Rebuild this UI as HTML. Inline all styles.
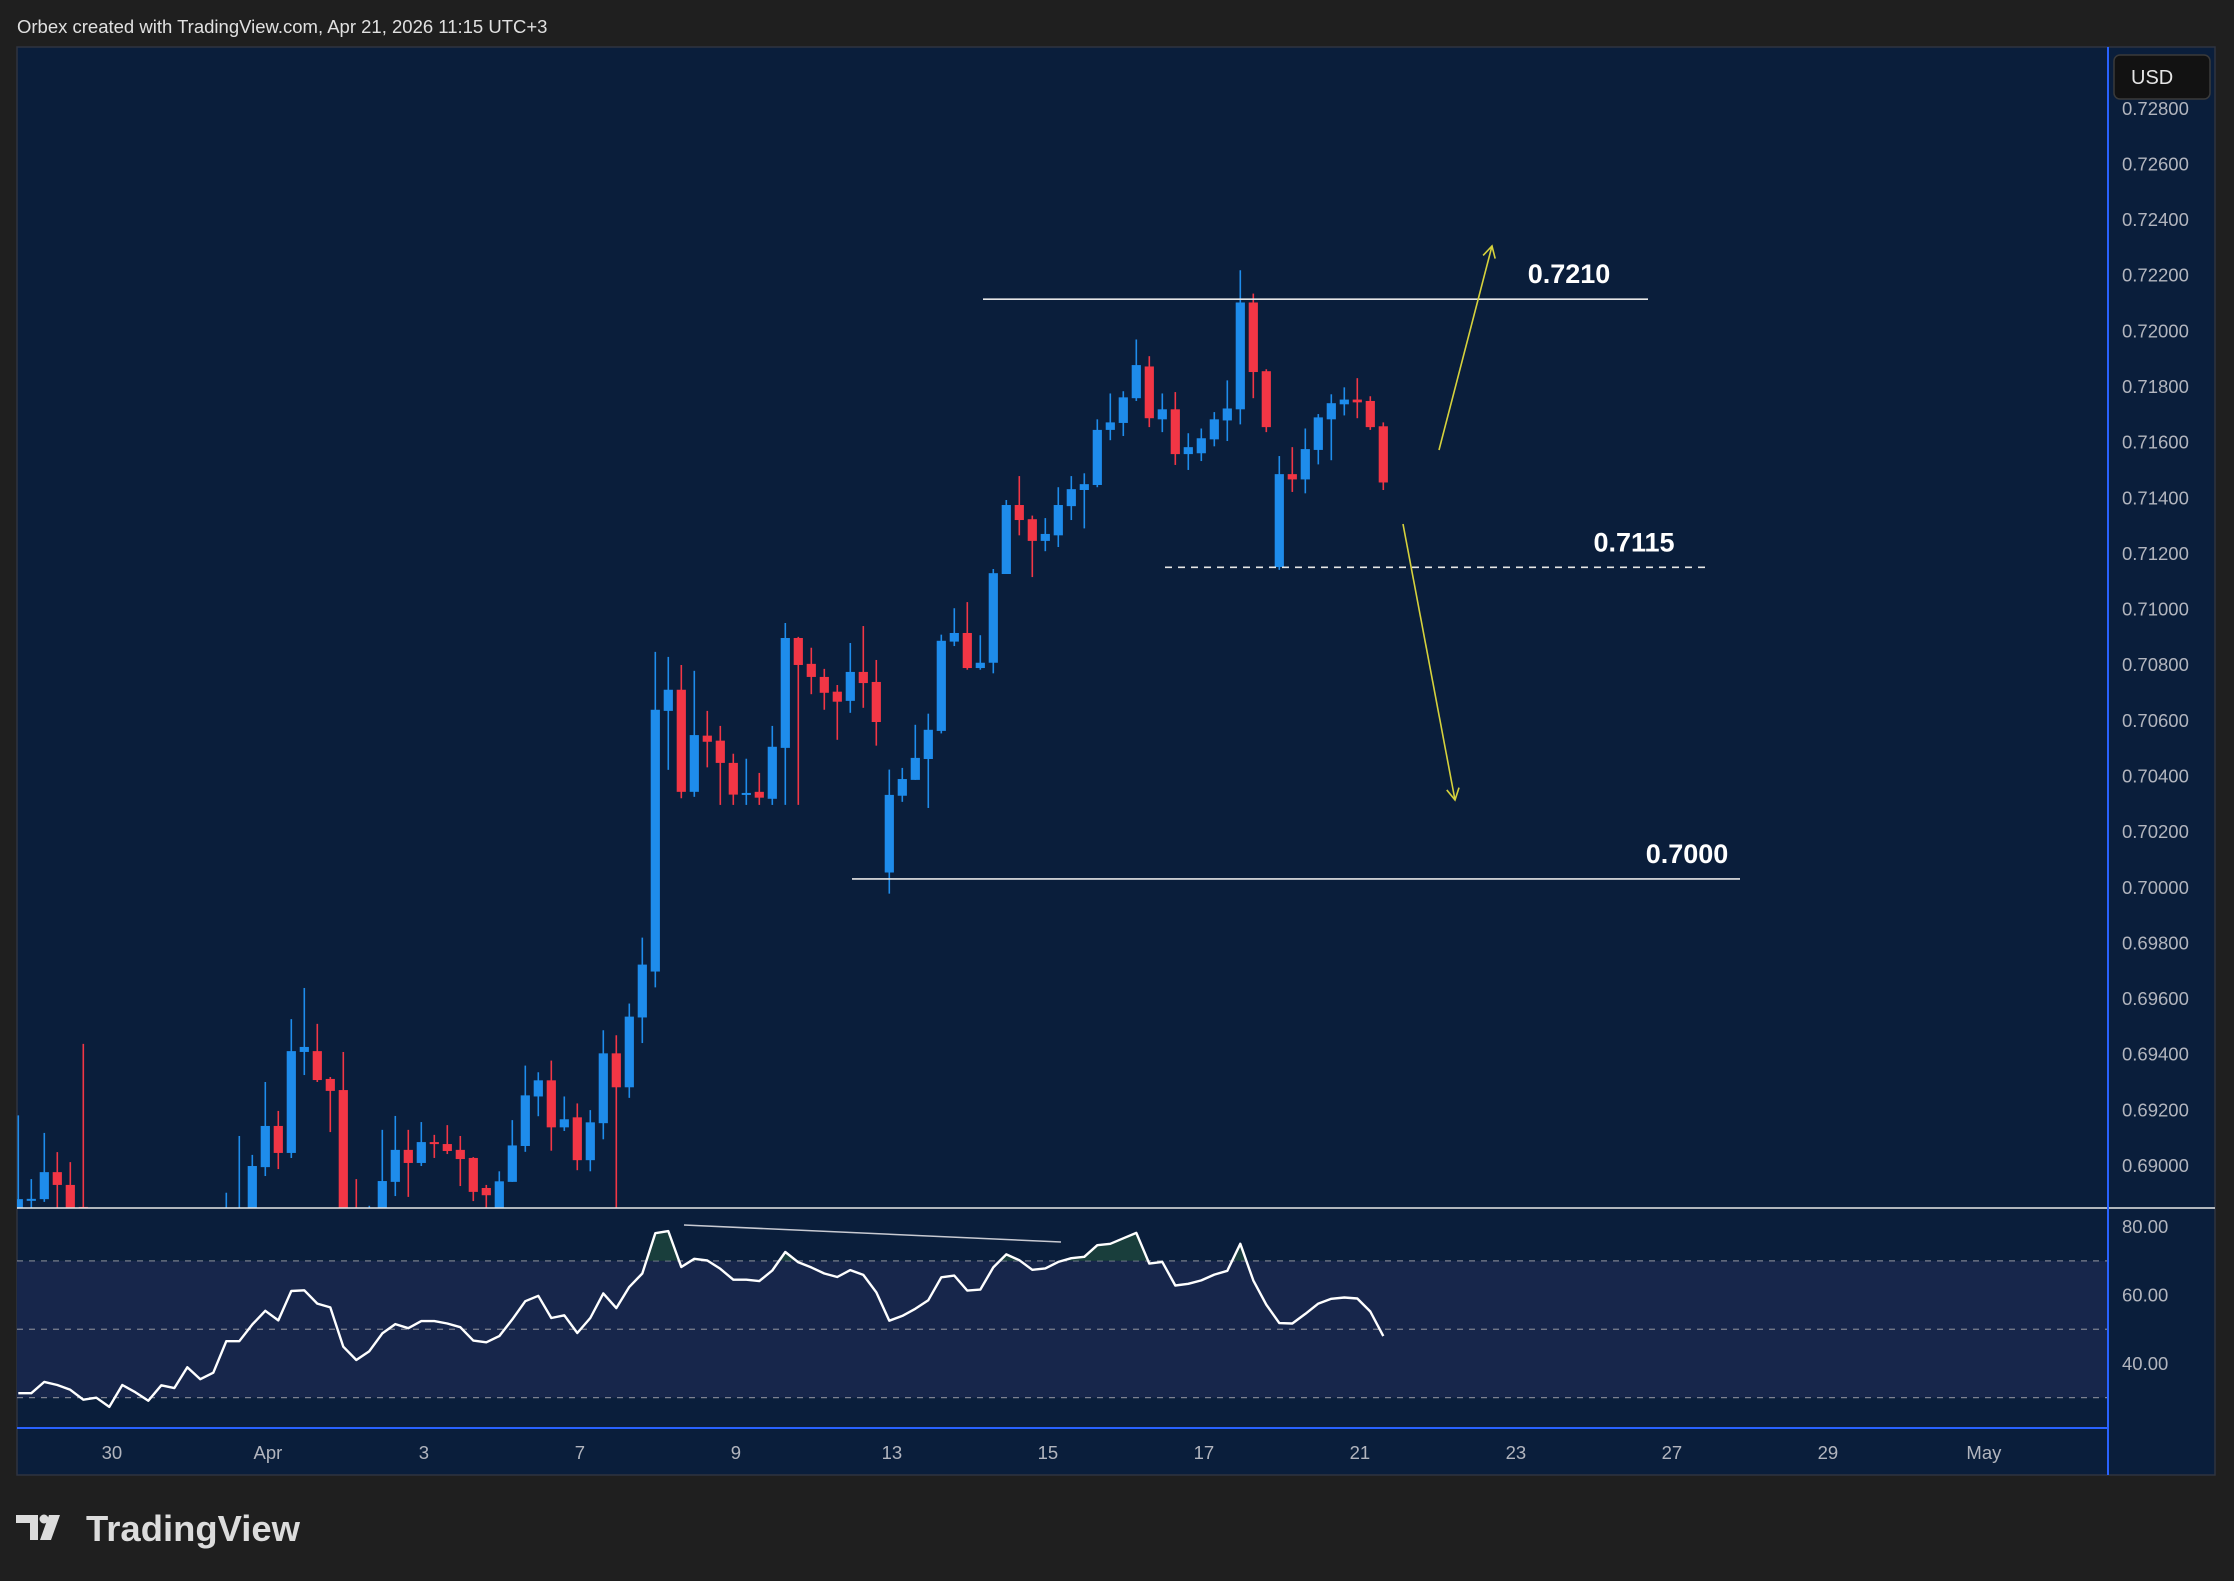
<!DOCTYPE html>
<html><head><meta charset="utf-8"><title>AUDUSD 4H chart</title>
<style>
html,body{margin:0;padding:0;background:#1f1f1f;}
svg{display:block;font-family:"Liberation Sans",sans-serif;}
</style></head>
<body>
<svg id="chart" width="2234" height="1581" viewBox="0 0 2234 1581" xmlns="http://www.w3.org/2000/svg">
  <rect x="0" y="0" width="2234" height="1581" fill="#1f1f1f"/>
  <text x="17" y="33" font-size="18.5" fill="#e0e0e0">Orbex created with TradingView.com, Apr 21, 2026 11:15 UTC+3</text>
  <rect x="17" y="47" width="2198" height="1428" fill="#0a1e3b" stroke="#2f3340" stroke-width="1.5"/>
  <defs>
    <clipPath id="mainClip"><rect x="17" y="47" width="2091" height="1161"/></clipPath>
    <clipPath id="rsiClip"><rect x="17" y="1209" width="2091" height="219"/></clipPath>
    <clipPath id="obClip"><rect x="17" y="1209" width="2091" height="51.9"/></clipPath>
  </defs>
  <rect id="rsiBand" x="17" y="1261" width="2091" height="137" fill="#17264b"/>
  <g id="rsiGrid"></g>
  <g id="obFill" clip-path="url(#obClip)"></g>
  <g id="rsiLine" clip-path="url(#rsiClip)"></g>
  <g id="candles" clip-path="url(#mainClip)"></g>
  <line x1="17" y1="1208" x2="2215" y2="1208" stroke="#e8e8e8" stroke-width="1.5"/>
  <line x1="17" y1="1428" x2="2108" y2="1428" stroke="#2962ff" stroke-width="2"/>
  <line x1="2108" y1="47" x2="2108" y2="1475" stroke="#2962ff" stroke-width="2"/>
  <g id="annotations"></g>
  <g id="priceAxis"></g>
  <g id="rsiAxis"></g>
  <g id="timeAxis"></g>
  <rect x="2114" y="55" width="96" height="44" rx="6" fill="#121212" stroke="#3a3a3a" stroke-width="1.5"/>
  <text x="2131" y="84" font-size="20" fill="#e6e6e6">USD</text>
  <g>
    <path d="M16 1515 H38 V1540 H30 V1523 H16 Z" fill="#dcdcdc"/>
    <circle cx="44" cy="1519" r="4.5" fill="#dcdcdc"/>
    <path d="M49 1515 H60 L51 1540 H40 Z" fill="#dcdcdc"/>
    <text x="86" y="1541" font-size="36" font-weight="bold" fill="#dcdcdc" textLength="214" lengthAdjust="spacingAndGlyphs">TradingView</text>
  </g>
</svg>
<script>
const opens = [.6880,.6888,.68879,.68976,.6893,.68851,.6882,.6874,.6868,.6878,.6872,.6865,.6877,.6875,.6882,.6876,.6880,.6883,.6880,.68994,.69142,.69045,.69408,.69411,.69311,.69271,.6872,.6868,.6876,.68941,.69056,.69009,.69084,.69077,.69056,.69027,.68919,.6884,.68941,.69070,.69248,.69306,.69137,.69173,.69019,.69152,.69403,.69281,.69532,.69697,.70634,.70710,.70343,.70545,.70527,.70447,.70337,.70343,.70318,.70501,.70896,.70803,.70756,.70703,.70670,.70774,.70738,.70053,.70329,.70386,.70461,.70562,.70883,.70914,.70788,.70807,.71126,.71374,.71323,.71245,.71265,.71370,.71428,.71446,.71644,.71669,.71758,.71872,.71682,.71718,.71557,.71560,.71610,.71678,.71718,.72102,.71855,.71151,.71485,.71466,.71572,.71682,.71736,.71753,.71748,.71657];
const highs = [.6918,.68951,.69117,.69048,.69012,.69437,.6883,.6878,.6880,.6882,.6876,.6880,.6881,.6883,.6883,.6883,.68902,.69106,.69038,.69300,.69196,.69526,.69638,.69509,.69318,.69408,.68951,.68855,.69128,.69178,.69128,.69156,.69110,.69145,.69106,.69030,.68930,.68979,.69163,.69359,.69335,.69377,.69248,.69223,.69199,.69486,.69468,.69582,.69819,.70846,.70828,.70799,.70778,.70634,.70580,.70480,.70462,.70411,.70580,.70950,.70900,.70861,.70785,.70727,.70878,.70939,.70817,.70423,.70429,.70584,.70624,.70908,.71003,.71025,.70906,.71144,.71392,.71478,.71336,.71327,.71438,.71478,.71488,.71682,.71775,.71783,.71969,.71909,.71775,.71780,.71632,.71649,.71708,.71822,.72218,.72134,.71862,.71550,.71582,.71649,.71701,.71772,.71797,.71830,.71765,.71671];
const lows = [.6875,.6884,.68869,.6880,.6882,.6878,.6870,.6865,.6866,.6870,.6862,.6863,.6870,.6873,.6872,.6874,.6876,.6880,.6878,.68962,.68987,.69027,.69325,.69300,.69120,.6860,.6855,.6862,.6872,.68890,.68887,.68998,.69027,.69041,.68926,.68872,.6878,.6882,.68941,.69049,.69177,.69053,.69124,.68983,.68979,.69094,.6875,.69243,.69440,.69640,.70422,.70320,.70325,.70431,.70296,.70296,.70296,.70296,.70296,.70296,.70296,.70694,.70638,.70530,.70627,.70645,.70509,.69977,.70307,.70386,.70285,.70553,.70867,.70782,.70782,.70769,.71126,.71265,.71115,.71208,.71223,.71320,.71290,.71438,.71607,.71622,.71748,.71654,.71636,.71518,.71500,.71532,.71585,.71604,.71664,.71758,.71636,.71141,.71421,.71416,.71520,.71535,.71696,.71686,.71644,.71428];
const closes = [.68879,.6888,.68976,.6893,.68847,.6884,.6874,.6868,.6878,.6872,.6865,.6877,.6875,.6882,.6876,.6880,.6883,.6884,.68998,.69142,.69045,.69411,.69426,.69307,.69268,.6866,.6868,.6876,.68944,.69056,.69009,.69084,.69077,.69052,.69023,.68905,.68893,.68943,.69072,.69252,.69306,.69137,.69166,.69019,.69155,.69403,.69281,.69535,.69722,.70638,.70710,.70343,.70547,.70523,.70447,.70333,.70339,.70322,.70505,.70896,.70799,.70756,.70699,.70667,.70774,.70734,.70594,.70332,.70389,.70465,.70566,.70886,.70914,.70788,.70807,.71129,.71374,.71320,.71245,.71270,.71374,.71431,.71449,.71644,.71671,.71761,.71877,.71686,.71718,.71557,.71582,.71614,.71682,.71721,.72102,.71852,.71654,.71485,.71466,.71575,.71689,.71740,.71753,.71743,.71654,.71455];
const rsiValues = [31.3,31.3,34.6,33.7,32.3,29.4,30.0,27.3,33.7,31.6,29.1,33.6,32.8,38.9,35.4,37.3,46.5,46.5,51.4,55.4,52.6,61.2,61.4,57.5,56.4,44.9,41.0,43.6,48.8,51.5,50.3,52.4,52.4,51.7,50.6,46.7,46.2,48.0,52.9,58.2,59.8,53.3,54.1,48.9,53.3,60.5,56.2,62.4,66.3,78.1,78.7,68.2,70.6,70.1,67.7,64.5,64.5,64.1,67.2,72.6,69.6,68.1,66.3,65.3,67.3,65.9,60.8,52.5,53.9,56.0,58.5,65.2,65.7,61.3,61.6,68.1,71.9,70.2,67.4,67.8,69.7,70.8,71.2,74.6,75.0,76.6,78.2,69.2,69.7,62.8,63.3,64.3,66.0,67.1,75.0,64.3,57.2,51.8,51.7,54.5,57.5,58.9,59.3,59.0,55.2,48.0];
const priceTicks = [0.728,0.726,0.724,0.722,0.720,0.718,0.716,0.714,0.712,0.710,0.708,0.706,0.704,0.702,0.700,0.698,0.696,0.694,0.692,0.690];
const rsiTicks = [80,60,40];
const rsiLevels = [70,50,30];
const timeLabels = ["30","Apr","3","7","9","13","15","17","21","23","27","29","May"];
const timeIdx = [7,19,31,43,55,67,79,91,103,115,127,139,151];
const levelPrices = [0.72114,0.71150,0.70030];
const levelText = ["0.7210","0.7115","0.7000"];

const NS = "http://www.w3.org/2000/svg";
function xOf(i){ return 18.3 + 13*i; }
function yP(p){ return 108.3 + (0.728 - p)*27820; }
function yR(v){ return 1226.7 + (80 - v)*3.419; }
function mk(tag, attrs, parent){
  const e = document.createElementNS(NS, tag);
  for (const k in attrs) e.setAttribute(k, attrs[k]);
  parent.appendChild(e);
  return e;
}
const UP = "#1e8ceb", DN = "#f23645";
const cg = document.getElementById("candles");
for (let i = 0; i < opens.length; i++) {
  const up = closes[i] >= opens[i];
  const col = up ? UP : DN;
  const g = mk("g", {}, cg);
  
  
  const x = xOf(i);
  mk("line", {x1:x, x2:x, y1:yP(highs[i]), y2:yP(lows[i]), stroke:col, "stroke-width":1.6}, g);
  const t = yP(Math.max(opens[i], closes[i])), b = yP(Math.min(opens[i], closes[i]));
  mk("rect", {x:x-4.6, y:t, width:9.2, height:Math.max(b-t, 2), fill:col}, g);
}
const rg = document.getElementById("rsiGrid");
rsiLevels.forEach(v => {
  const l = mk("line", {x1:17, x2:2108, y1:yR(v), y2:yR(v), stroke:"#7d8190", "stroke-width":1.3, "stroke-dasharray":"6 6"}, rg);
  
  
});
document.getElementById("rsiBand").setAttribute("y", yR(70));
document.getElementById("rsiBand").setAttribute("height", yR(30) - yR(70));
let pts = rsiValues.map((v, i) => xOf(i).toFixed(1) + "," + yR(v).toFixed(1));
const rl = mk("polyline", {points:pts.join(" "), fill:"none", stroke:"#ffffff", "stroke-width":2.4, "stroke-linejoin":"round"}, document.getElementById("rsiLine"));


const n = rsiValues.length;
const area = pts.concat([xOf(n-1).toFixed(1) + "," + yR(70), xOf(0).toFixed(1) + "," + yR(70)]);
const of = mk("polygon", {points:area.join(" "), fill:"#1f4a3e", opacity:0.75}, document.getElementById("obFill"));


const dv = mk("line", {x1:684, y1:1225, x2:1061, y2:1242, stroke:"#c8cad2", "stroke-width":1.5}, document.getElementById("annotations"));


const pa = document.getElementById("priceAxis");
priceTicks.forEach(p => {
  const t = mk("text", {x:2122, y:yP(p)+6.5, "font-size":18.5, fill:"#b2b5be"}, pa);
  t.textContent = p.toFixed(5);
  
  
});
const ra = document.getElementById("rsiAxis");
rsiTicks.forEach(v => {
  const t = mk("text", {x:2122, y:yR(v)+6.5, "font-size":18.5, fill:"#b2b5be"}, ra);
  t.textContent = v.toFixed(2);
  
  
});
const ta = document.getElementById("timeAxis");
timeLabels.forEach((s, k) => {
  const t = mk("text", {x:xOf(timeIdx[k]+0.2), y:1459, "font-size":18.5, fill:"#b2b5be", "text-anchor":"middle"}, ta);
  t.textContent = s;
  
  
});
const an = document.getElementById("annotations");
const lvX = [[983,1648],[1165,1710],[852,1740]];
const lvLabelX = [1569,1634,1687];
levelPrices.forEach((p, k) => {
  const attrs = {x1:lvX[k][0], x2:lvX[k][1], y1:yP(p), y2:yP(p), stroke:"#e6e6e6", "stroke-width":1.6};
  if (k === 1) attrs["stroke-dasharray"] = "7 6";
  const l = mk("line", attrs, an);
  
  
  const t = mk("text", {x:lvLabelX[k], y:yP(p)-16, "font-size":27, "font-weight":"bold", fill:"#ffffff", "text-anchor":"middle"}, an);
  t.textContent = levelText[k];
  
  
});
function arrow(x1, y1, x2, y2, name){
  const g = mk("g", {stroke:"#d6d23c", "stroke-width":1.6, fill:"none"}, an);
  
  
  mk("line", {x1:x1, y1:y1, x2:x2, y2:y2}, g);
  const a = Math.atan2(y2-y1, x2-x1), L = 13;
  const p1 = [x2 - L*Math.cos(a-0.5), y2 - L*Math.sin(a-0.5)];
  const p2 = [x2 - L*Math.cos(a+0.5), y2 - L*Math.sin(a+0.5)];
  mk("polyline", {points: p1.join(",") + " " + x2 + "," + y2 + " " + p2.join(",")}, g);
}
arrow(1439, 450, 1492, 246, "breakout-up-arrow");
arrow(1403, 524, 1455, 800, "breakdown-arrow");
</script>
</body></html>
